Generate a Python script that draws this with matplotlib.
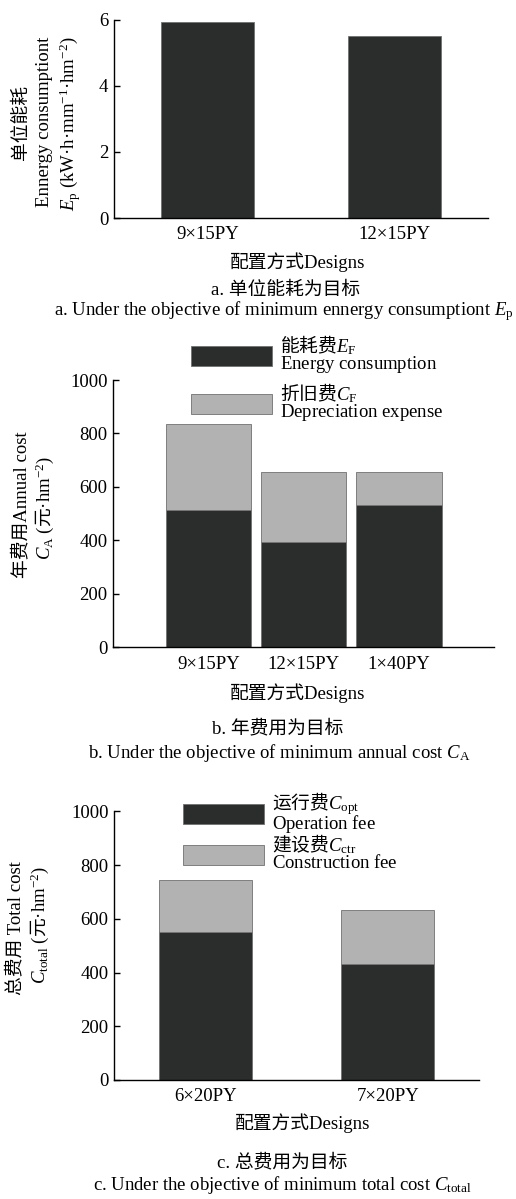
import matplotlib
matplotlib.use("Agg")
import matplotlib.pyplot as plt

plt.rcParams['font.family'] = ['Liberation Serif', 'Noto Sans CJK SC']
plt.rcParams['mathtext.fontset'] = 'custom'
plt.rcParams['mathtext.rm'] = 'Liberation Serif'
plt.rcParams['mathtext.it'] = 'Liberation Serif:italic'
plt.rcParams['mathtext.bf'] = 'Liberation Serif:bold'
plt.rcParams['mathtext.fallback'] = 'stix'
CJK = 'Noto Sans CJK SC'

# ---------------- data ----------------
designs_a = ['9×15PY', '12×15PY']
energy_per_unit_a = [5.94, 5.52]

designs_b = ['9×15PY', '12×15PY', '1×40PY']
energy_fee_b = [515, 395, 531]
depreciation_b = [321, 262, 126]

designs_c = ['6×20PY', '7×20PY']
operation_fee_c = [550, 430]
construction_fee_c = [193, 202]

DARK = '#2b2d2c'
GRAY = '#b2b2b2'
EDGE = '#707070'
FS = 13.5

W, H = 516, 1199
fig = plt.figure(figsize=(W / 100, H / 100), dpi=100)


def add_axes(left, right, top, bottom):
    return fig.add_axes([left / W, 1 - bottom / H, (right - left) / W, (bottom - top) / H])


def style(ax):
    for s in ['top', 'right']:
        ax.spines[s].set_visible(False)
    for s in ['left', 'bottom']:
        ax.spines[s].set_linewidth(1.0)
        ax.spines[s].set_color('black')
    ax.tick_params(axis='y', direction='in', length=4, width=1, labelsize=FS, pad=4)
    ax.tick_params(axis='x', length=0, labelsize=FS, pad=6)


def ftext(x, y, s, **kw):
    kw.setdefault('fontsize', FS)
    kw.setdefault('ha', 'center')
    kw.setdefault('va', 'center')
    return fig.text(x / W, 1 - y / H, s, **kw)


# ---------------- panel a ----------------
axa = add_axes(114, 488, 20, 218)
xa = range(len(designs_a))
axa.bar(xa, energy_per_unit_a, width=0.5, color=DARK, edgecolor=EDGE, linewidth=0.6)
axa.set_xlim(-0.5, 1.5)
axa.set_ylim(0, 6)
axa.set_yticks([0, 2, 4, 6])
axa.set_xticks(list(xa))
axa.set_xticklabels(designs_a)
style(axa)
ftext(20, 122, '单位能耗', rotation=90, family=CJK)
ftext(45, 122, 'Ennergy consumptiont', rotation=90)
ftext(70, 124, r'$E_\mathrm{p}$ (kW·h·mm$^{-1}$·hm$^{-2}$)', rotation=90)
ftext(298, 262, '配置方式Designs')
ftext(286, 290, 'a. 单位能耗为目标')
ftext(284, 311, r'a. Under the objective of minimum ennergy consumptiont $E_\mathrm{p}$')

# ---------------- panel b ----------------
axb = add_axes(113.3, 494, 380, 647.3)
xb = range(len(designs_b))
axb.bar(xb, energy_fee_b, width=0.9, color=DARK, edgecolor=EDGE, linewidth=0.6,
        label='能耗费$E_\\mathrm{F}$\n$\\mathrm{Energy\\ consumption}$')
axb.bar(xb, depreciation_b, bottom=energy_fee_b, width=0.9, color=GRAY, edgecolor=EDGE,
        linewidth=0.6, label='折旧费$C_\\mathrm{F}$\n$\\mathrm{Depreciation\\ expense}$')
axb.set_xlim(-1, 3)
axb.set_ylim(0, 1000)
axb.set_yticks([0, 200, 400, 600, 800, 1000])
axb.set_xticks(list(xb))
axb.set_xticklabels(designs_b)
style(axb)
lb = axb.legend(loc='upper left', bbox_to_anchor=(0.203, 1.172), frameon=False,
                prop={'family': CJK, 'size': FS}, handlelength=4.32, handleheight=1.25,
                handletextpad=0.43, labelspacing=0.31, borderpad=0, borderaxespad=0)
for t in lb.get_texts():
    t.set_linespacing(0.73)
ftext(21.7, 505, '年费用Annual cost', rotation=90)
ftext(45, 508, r'$C_\mathrm{A}\ ($元$\mathrm{·hm}^{-2})$', rotation=90, family=CJK)
ftext(298, 693, '配置方式Designs')
ftext(278, 728, 'b. 年费用为目标')
ftext(279, 753, r'b. Under the objective of minimum annual cost $C_\mathrm{A}$')

# ---------------- panel c ----------------
axc = add_axes(114, 479, 811.3, 1080)
xc = range(len(designs_c))
axc.bar(xc, operation_fee_c, width=0.51, color=DARK, edgecolor=EDGE, linewidth=0.6,
        label='运行费$C_\\mathrm{opt}$\n$\\mathrm{Operation\\ fee}$')
axc.bar(xc, construction_fee_c, bottom=operation_fee_c, width=0.51, color=GRAY, edgecolor=EDGE,
        linewidth=0.6, label='建设费$C_\\mathrm{ctr}$\n$\\mathrm{Construction\\ fee}$')
axc.set_xlim(-0.5, 1.5)
axc.set_ylim(0, 1000)
axc.set_yticks([0, 200, 400, 600, 800, 1000])
axc.set_xticks(list(xc))
axc.set_xticklabels(designs_c)
style(axc)
lc = axc.legend(loc='upper left', bbox_to_anchor=(0.19, 1.079), frameon=False,
                prop={'family': CJK, 'size': FS}, handlelength=4.32, handleheight=1.25,
                handletextpad=0.43, labelspacing=-0.1, borderpad=0, borderaxespad=0)
for t in lc.get_texts():
    t.set_linespacing(0.73)
ftext(15, 928, '总费用 Total cost', rotation=90)
ftext(40, 925, r'$C_\mathrm{total}\ ($元$\mathrm{·hm}^{-2})$', rotation=90, family=CJK)
ftext(303, 1123, '配置方式Designs')
ftext(282, 1162, 'c. 总费用为目标')
ftext(282, 1185, r'c. Under the objective of minimum total cost $C_\mathrm{total}$')

fig.savefig('out.png', dpi=100)
